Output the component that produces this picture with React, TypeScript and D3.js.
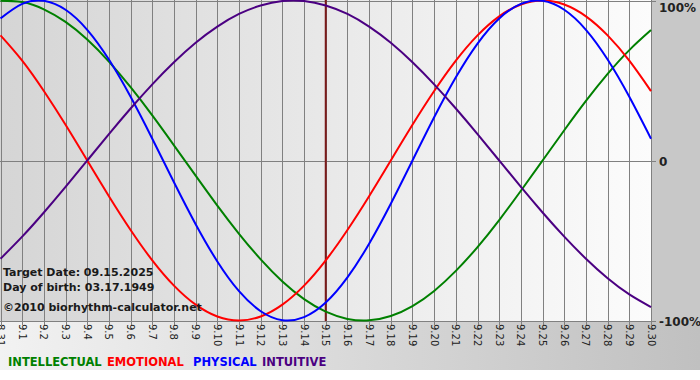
import React from "react";
import * as d3 from "d3";

const dayLabels = ["8.31","9.1","9.2","9.3","9.4","9.5","9.6","9.7","9.8","9.9","9.10","9.11","9.12","9.13","9.14","9.15","9.16","9.17","9.18","9.19","9.20","9.21","9.22","9.23","9.24","9.25","9.26","9.27","9.28","9.29","9.30"];

const physical = [0.888,0.979,0.998,0.942,0.817,0.631,0.398,0.136,-0.136,-0.398,-0.631,-0.817,-0.942,-0.998,-0.979,-0.888,-0.731,-0.520,-0.270,0,0.270,0.520,0.731,0.888,0.979,0.998,0.942,0.817,0.631,0.398,0.136];
const emotional = [0.782,0.624,0.434,0.223,0,-0.223,-0.434,-0.624,-0.782,-0.901,-0.975,-1,-0.975,-0.901,-0.782,-0.624,-0.434,-0.223,0,0.223,0.434,0.624,0.782,0.901,0.975,1,0.975,0.901,0.782,0.624,0.434];
const intellectual = [0.999,0.990,0.945,0.866,0.756,0.618,0.458,0.282,0.095,-0.095,-0.282,-0.458,-0.618,-0.756,-0.866,-0.945,-0.990,-0.999,-0.972,-0.910,-0.815,-0.690,-0.541,-0.372,-0.189,0,0.189,0.372,0.541,0.690,0.815];
const intuitive = [-0.614,-0.476,-0.325,-0.165,0,0.165,0.325,0.476,0.614,0.736,0.837,0.916,0.969,0.997,0.997,0.969,0.916,0.837,0.736,0.614,0.476,0.325,0.165,0,-0.165,-0.325,-0.476,-0.614,-0.736,-0.837,-0.916];

const yTicks = [1, 0, -1];
const yTickLabels = ["100%", "0", "-100%"];
const targetIndex = 15;
const infoLines = ["Target Date: 09.15.2025", "Day of birth: 03.17.1949"];
const copyright = "\u00A92010 biorhythm-calculator.net";

const series = [
  { name: "INTELLECTUAL", values: intellectual, color: "#008000" },
  { name: "EMOTIONAL", values: emotional, color: "#ff0000" },
  { name: "PHYSICAL", values: physical, color: "#0000ff" },
  { name: "INTUITIVE", values: intuitive, color: "#4b0082" },
];

export default function App() {
  const x = d3.scaleLinear().domain([0, 30]).range([0.5, 651]);
  const y = d3.scaleLinear().domain([-1, 1]).range([320.5, 0.5]);
  const line = d3
    .line<number>()
    .x((_, i) => x(i))
    .y((v) => y(v))
    .curve(d3.curveNatural);
  const font = "Verdana, 'DejaVu Sans', sans-serif";
  const legendX = [8, 107, 193, 262];
  return (
    <div style={{ position: "absolute", left: 0, top: 0 }}>
      <svg width={700} height={380} style={{ display: "block" }}>
        <defs>
          <linearGradient id="plotbg" x1="0" x2="1" y1="0" y2="0">
            <stop offset="0" stopColor="#d5d5d5" />
            <stop offset="1" stopColor="#fcfcfc" />
          </linearGradient>
          <linearGradient id="bottombg" x1="0" x2="1" y1="0" y2="0">
            <stop offset="0" stopColor="#f2f2f2" />
            <stop offset="1" stopColor="#c0c0c0" />
          </linearGradient>
        </defs>
        <rect x={0} y={0} width={700} height={380} fill="#ffffff" />
        <rect x={0} y={321} width={700} height={49} fill="url(#bottombg)" />
        <rect x={651} y={0} width={49} height={321} fill="#c8c8c8" />
        <rect x={0} y={0} width={651} height={321} fill="url(#plotbg)" />
        {dayLabels.map((_, i) => (
          <line key={"g" + i} x1={Math.round(x(i)) + 0.5} x2={Math.round(x(i)) + 0.5} y1={0} y2={325} stroke="#808080" strokeWidth={1} />
        ))}
        {yTicks.map((t) => (
          <line key={"h" + t} x1={0} x2={656} y1={Math.round(y(t)) + 0.5} y2={Math.round(y(t)) + 0.5} stroke="#808080" strokeWidth={1} />
        ))}
        <line x1={x(targetIndex)} x2={x(targetIndex)} y1={0} y2={321} stroke="#7a1a1a" strokeWidth={2} />
        {series.map((s) => (
          <path key={s.name} d={line(s.values) || ""} fill="none" stroke={s.color} strokeWidth={2} />
        ))}
        {dayLabels.map((lab, i) => (
          <text key={"l" + i} transform={`translate(${x(i) - 3.5},324) rotate(90)`} fontFamily={font} fontSize={10} fill="#222">
            {lab}
          </text>
        ))}
        {yTicks.map((t, i) => (
          <text key={"yl" + t} x={659} y={Math.max(y(t) + 5, 12)} fontFamily={font} fontSize={12} fontWeight="bold" fill="#222">
            {yTickLabels[i]}
          </text>
        ))}
        {infoLines.map((s, i) => (
          <text key={"i" + i} x={3} y={276 + i * 14.5} fontFamily={font} fontSize={11} fontWeight="bold" fill="#1a1a1a">
            {s}
          </text>
        ))}
        <text x={3} y={311} fontFamily={font} fontSize={11} fontWeight="bold" fill="#1a1a1a">
          {copyright}
        </text>
        {series.map((s, i) => (
          <text key={"lg" + s.name} x={legendX[i]} y={366} fontFamily={font} fontSize={11.5} fontWeight="bold" fill={s.color}>
            {s.name}
          </text>
        ))}
      </svg>
    </div>
  );
}
